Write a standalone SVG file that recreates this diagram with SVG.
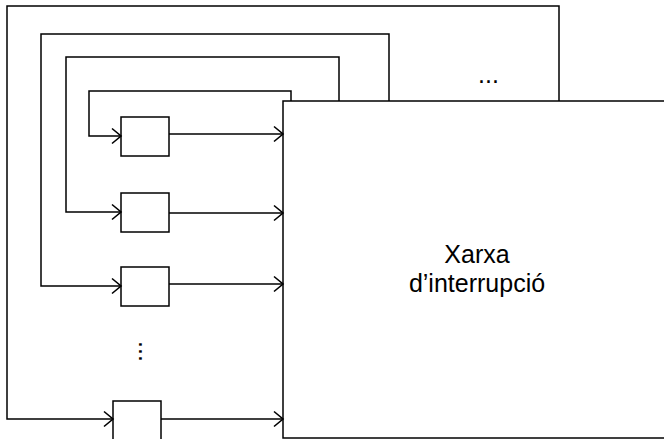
<svg xmlns="http://www.w3.org/2000/svg" width="664" height="439" viewBox="0 0 664 439">
<defs>
<style>
.ln{fill:none;stroke:#000;stroke-width:1.5}
.bx{fill:#fff;stroke:#000;stroke-width:1.5}
.t{font-family:"Liberation Sans",Arial,sans-serif;font-size:25px;fill:#000}
.d{font-family:"Liberation Sans",Arial,sans-serif;font-size:25px;fill:#000}
</style>
<marker id="ar" markerUnits="userSpaceOnUse" markerWidth="20" markerHeight="20" refX="0" refY="0" viewBox="-10 -10 20 20" orient="auto" overflow="visible">
<path d="M-9,-7.5 L0,0 L-9,7.5" fill="none" stroke="#000" stroke-width="1.6"/>
</marker>
</defs>
<rect width="664" height="439" fill="#fff"/>
<g id="net">
<rect class="bx" x="283" y="101" width="400" height="337"/>
<text class="t" x="477" y="262.5" text-anchor="middle">Xarxa</text>
<text class="t" x="477" y="292" text-anchor="middle">d’interrupció</text>
</g>
<g id="b1"><rect class="bx" x="121" y="117" width="48" height="39"/></g>
<g id="b2"><rect class="bx" x="121" y="193" width="48" height="39"/></g>
<g id="b3"><rect class="bx" x="121" y="267" width="48" height="39"/></g>
<g id="b4"><rect class="bx" x="113" y="401" width="48" height="50"/></g>
<g id="connectors">
<path class="ln" d="M291,101 V91 H89 V136 H121" marker-end="url(#ar)"/>
<path class="ln" d="M339,101 V57 H66 V212 H121" marker-end="url(#ar)"/>
<path class="ln" d="M389,101 V34 H41 V286 H121" marker-end="url(#ar)"/>
<path class="ln" d="M559,101 V6 H7 V419 H113" marker-end="url(#ar)"/>
<path class="ln" d="M169,134 H283" marker-end="url(#ar)"/>
<path class="ln" d="M169,213 H283" marker-end="url(#ar)"/>
<path class="ln" d="M169,284 H283" marker-end="url(#ar)"/>
<path class="ln" d="M161,419 H283" marker-end="url(#ar)"/>
</g>
<g id="dots">
<text class="d" x="478" y="83">...</text>
<text class="d" transform="translate(139.3,341) rotate(90)" x="0" y="0">...</text>
</g>
</svg>
